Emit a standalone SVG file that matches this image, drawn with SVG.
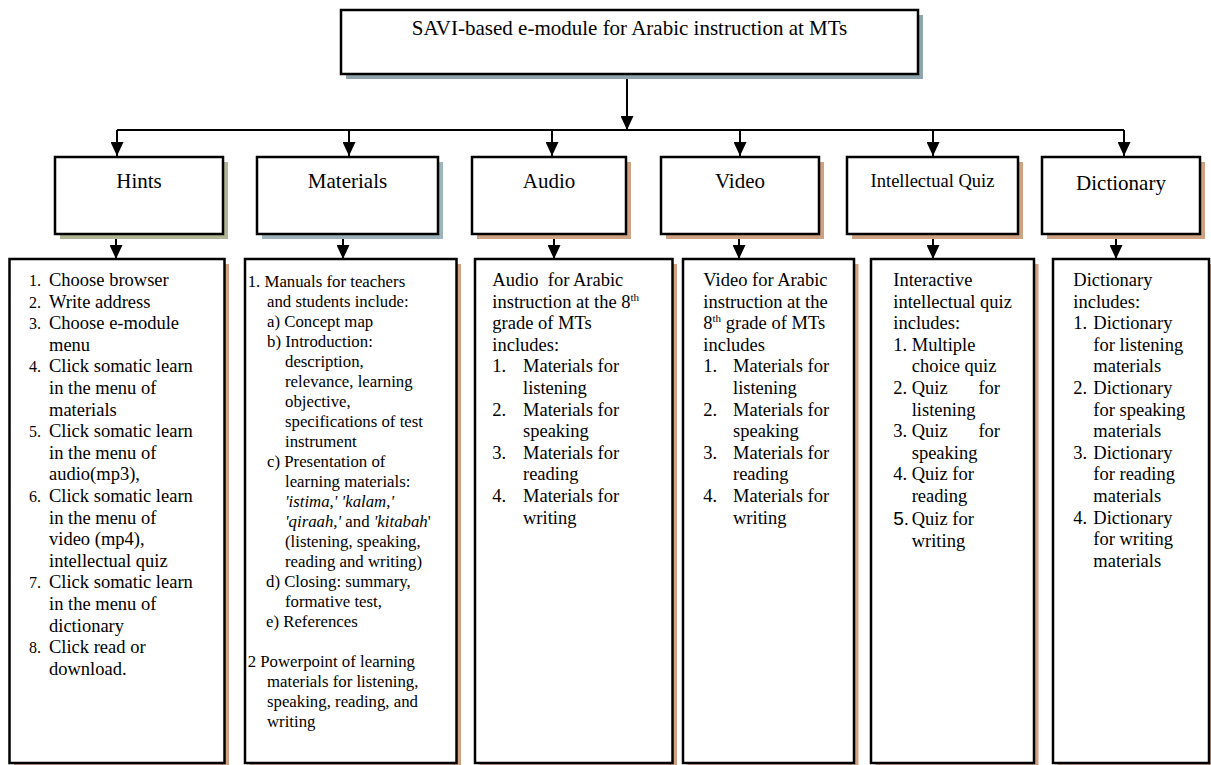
<svg xmlns="http://www.w3.org/2000/svg" width="1211" height="765" viewBox="0 0 1211 765">
<style>
.t{font-family:"Liberation Serif","Times New Roman",serif;font-size:18.5px;fill:#000}
.h{font-size:21px}
.iq{font-size:18.5px}
.m{font-size:16.8px}
.n{font-size:16px}
.box{fill:#fff;stroke:#000;stroke-width:2.5}
.sb{fill:#8fa5ae}
.so{fill:#b0b594}
.sg{fill:#9db4bd}
.st{fill:#cfa283}
.c{stroke:#000;stroke-width:2;fill:none}
.pre{white-space:pre}
</style>
<defs>
<marker id="ah" viewBox="0 0 14 13" refX="14" refY="6.5" markerWidth="14" markerHeight="13" markerUnits="userSpaceOnUse" orient="auto">
<path d="M0,0 L14,6.5 L0,13 z" fill="#000"/>
</marker>
<filter id="blur" x="-5%" y="-5%" width="110%" height="110%"><feGaussianBlur stdDeviation="0.7"/></filter>
</defs>

<g id="connectors">
<line class="c" x1="627" y1="74" x2="627" y2="130" marker-end="url(#ah)"/>
<line class="c" x1="117" y1="130" x2="1124" y2="130"/>
<line class="c" x1="117" y1="130" x2="117" y2="156" marker-end="url(#ah)"/>
<line class="c" x1="349" y1="130" x2="349" y2="156" marker-end="url(#ah)"/>
<line class="c" x1="552" y1="130" x2="552" y2="156" marker-end="url(#ah)"/>
<line class="c" x1="740" y1="130" x2="740" y2="156" marker-end="url(#ah)"/>
<line class="c" x1="933" y1="130" x2="933" y2="156" marker-end="url(#ah)"/>
<line class="c" x1="1124" y1="130" x2="1124" y2="156" marker-end="url(#ah)"/>
<line class="c" x1="116" y1="234" x2="116" y2="259" marker-end="url(#ah)"/>
<line class="c" x1="343" y1="234" x2="343" y2="259" marker-end="url(#ah)"/>
<line class="c" x1="554" y1="234" x2="554" y2="259" marker-end="url(#ah)"/>
<line class="c" x1="739" y1="234" x2="739" y2="259" marker-end="url(#ah)"/>
<line class="c" x1="933" y1="234" x2="933" y2="259" marker-end="url(#ah)"/>
<line class="c" x1="1116" y1="234" x2="1116" y2="259" marker-end="url(#ah)"/>
</g>

<g id="title">
<rect class="sb" x="346" y="15" width="577" height="64" filter="url(#blur)"/>
<rect class="box" x="341" y="10" width="577" height="64"/>
<text class="t h" x="629.5" y="35" text-anchor="middle">SAVI-based e-module for Arabic instruction at MTs</text>
</g>

<g id="hints">
<rect class="so" x="60" y="162" width="168" height="77" filter="url(#blur)"/>
<rect class="box" x="55" y="157" width="168" height="77"/>
<text class="t h" x="139" y="188" text-anchor="middle">Hints</text>
</g>
<g id="materials">
<rect class="sg" x="262" y="162" width="181" height="77" filter="url(#blur)"/>
<rect class="box" x="257" y="157" width="181" height="77"/>
<text class="t h" x="347.5" y="188" text-anchor="middle">Materials</text>
</g>
<g id="audio">
<rect class="st" x="477" y="162" width="154" height="77" filter="url(#blur)"/>
<rect class="box" x="472" y="157" width="154" height="77"/>
<text class="t h" x="549" y="188" text-anchor="middle">Audio</text>
</g>
<g id="video">
<rect class="st" x="666" y="162" width="158" height="77" filter="url(#blur)"/>
<rect class="box" x="661" y="157" width="158" height="77"/>
<text class="t h" x="740" y="188" text-anchor="middle">Video</text>
</g>
<g id="quiz">
<rect class="st" x="852" y="162" width="171" height="77" filter="url(#blur)"/>
<rect class="box" x="847" y="157" width="171" height="77"/>
<text class="t iq" x="932.5" y="186.5" text-anchor="middle">Intellectual Quiz</text>
</g>
<g id="dictionary">
<rect class="st" x="1047" y="162" width="158" height="77" filter="url(#blur)"/>
<rect class="box" x="1042" y="157" width="158" height="77"/>
<text class="t h" x="1121" y="190" text-anchor="middle">Dictionary</text>
</g>

<g id="hints-content">
<rect class="st" x="14" y="264" width="215" height="504" filter="url(#blur)"/>
<rect class="box" x="9.5" y="259" width="215" height="504"/>
<text class="t n" x="29" y="286">1.</text><text class="t" x="49" y="286">Choose browser</text>
<text class="t n" x="29" y="307.6">2.</text><text class="t" x="49" y="307.6">Write address</text>
<text class="t n" x="29" y="329.2">3.</text><text class="t" x="49" y="329.2">Choose e-module</text>
<text class="t" x="49" y="350.8">menu</text>
<text class="t n" x="29" y="372.4">4.</text><text class="t" x="49" y="372.4">Click somatic learn</text>
<text class="t" x="49" y="394">in the menu of</text>
<text class="t" x="49" y="415.6">materials</text>
<text class="t n" x="29" y="437.2">5.</text><text class="t" x="49" y="437.2">Click somatic learn</text>
<text class="t" x="49" y="458.8">in the menu of</text>
<text class="t" x="49" y="480.4">audio(mp3),</text>
<text class="t n" x="29" y="502">6.</text><text class="t" x="49" y="502">Click somatic learn</text>
<text class="t" x="49" y="523.6">in the menu of</text>
<text class="t" x="49" y="545.2">video (mp4),</text>
<text class="t" x="49" y="566.8">intellectual quiz</text>
<text class="t n" x="29" y="588.4">7.</text><text class="t" x="49" y="588.4">Click somatic learn</text>
<text class="t" x="49" y="610">in the menu of</text>
<text class="t" x="49" y="631.6">dictionary</text>
<text class="t n" x="29" y="653.2">8.</text><text class="t" x="49" y="653.2">Click read or</text>
<text class="t" x="49" y="675">download.</text>
</g>

<g id="materials-content">
<rect class="st" x="249.5" y="264" width="211.5" height="504" filter="url(#blur)"/>
<rect class="box" x="245" y="259" width="211.5" height="504"/>
<text class="t m" x="247.7" y="287">1. Manuals for teachers</text>
<text class="t m" x="267" y="307">and students include:</text>
<text class="t m" x="267" y="327">a) Concept map</text>
<text class="t m" x="267" y="347">b) Introduction:</text>
<text class="t m" x="285" y="367">description,</text>
<text class="t m" x="285" y="387">relevance, learning</text>
<text class="t m" x="285" y="407">objective,</text>
<text class="t m" x="285" y="427">specifications of test</text>
<text class="t m" x="285" y="447">instrument</text>
<text class="t m" x="267" y="467">c) Presentation of</text>
<text class="t m" x="285" y="487">learning materials:</text>
<text class="t m" x="285" y="507" font-style="italic">'istima,' 'kalam,'</text>
<text class="t m" x="285" y="527"><tspan font-style="italic">'qiraah,'</tspan> and <tspan font-style="italic">'kitabah</tspan>'</text>
<text class="t m" x="285" y="547">(listening, speaking,</text>
<text class="t m" x="285" y="567">reading and writing)</text>
<text class="t m" x="266" y="587">d) Closing: summary,</text>
<text class="t m" x="285" y="607">formative test,</text>
<text class="t m" x="266" y="627">e) References</text>
<text class="t m" x="247.7" y="667">2 Powerpoint of learning</text>
<text class="t m" x="267" y="687">materials for listening,</text>
<text class="t m" x="267" y="707">speaking, reading, and</text>
<text class="t m" x="267" y="727">writing</text>
</g>

<g id="audio-content">
<rect class="st" x="479.5" y="264" width="197.5" height="504" filter="url(#blur)"/>
<rect class="box" x="475" y="259" width="197.5" height="504"/>
<text class="t pre" x="492.3" y="286">Audio  for Arabic</text>
<text class="t" x="492.3" y="307.6">instruction at the 8<tspan font-size="11" dy="-7">th</tspan></text>
<text class="t" x="492.3" y="329.2">grade of MTs</text>
<text class="t" x="492.3" y="350.8">includes:</text>
<text class="t" x="492.3" y="372.4">1.</text><text class="t" x="523" y="372.4">Materials for</text>
<text class="t" x="523" y="394">listening</text>
<text class="t" x="492.3" y="415.6">2.</text><text class="t" x="523" y="415.6">Materials for</text>
<text class="t" x="523" y="437.2">speaking</text>
<text class="t" x="492.3" y="458.8">3.</text><text class="t" x="523" y="458.8">Materials for</text>
<text class="t" x="523" y="480.4">reading</text>
<text class="t" x="492.3" y="502">4.</text><text class="t" x="523" y="502">Materials for</text>
<text class="t" x="523" y="523.6">writing</text>
</g>

<g id="video-content">
<rect class="st" x="687.5" y="264" width="171" height="504" filter="url(#blur)"/>
<rect class="box" x="683" y="259" width="171" height="504"/>
<text class="t" x="703.3" y="286">Video for Arabic</text>
<text class="t" x="703.3" y="307.6">instruction at the</text>
<text class="t" x="703.3" y="329.2">8<tspan font-size="11" dy="-7">th</tspan><tspan dy="7"> grade of MTs</tspan></text>
<text class="t" x="703.3" y="350.8">includes</text>
<text class="t" x="703.3" y="372.4">1.</text><text class="t" x="733" y="372.4">Materials for</text>
<text class="t" x="733" y="394">listening</text>
<text class="t" x="703.3" y="415.6">2.</text><text class="t" x="733" y="415.6">Materials for</text>
<text class="t" x="733" y="437.2">speaking</text>
<text class="t" x="703.3" y="458.8">3.</text><text class="t" x="733" y="458.8">Materials for</text>
<text class="t" x="733" y="480.4">reading</text>
<text class="t" x="703.3" y="502">4.</text><text class="t" x="733" y="502">Materials for</text>
<text class="t" x="733" y="523.6">writing</text>
</g>

<g id="quiz-content">
<rect class="st" x="875.5" y="264" width="163" height="504" filter="url(#blur)"/>
<rect class="box" x="871" y="259" width="163" height="504"/>
<text class="t" x="893.3" y="286">Interactive</text>
<text class="t" x="893.3" y="307.6">intellectual quiz</text>
<text class="t" x="893.3" y="329.2">includes:</text>
<text class="t" x="893.3" y="350.8">1.</text><text class="t" x="911.7" y="350.8">Multiple</text>
<text class="t" x="911.7" y="372.4">choice quiz</text>
<text class="t" x="893.3" y="394">2.</text><text class="t" x="911.7" y="394">Quiz</text><text class="t" x="1000" y="394" text-anchor="end">for</text>
<text class="t" x="911.7" y="415.6">listening</text>
<text class="t" x="893.3" y="437.2">3.</text><text class="t" x="911.7" y="437.2">Quiz</text><text class="t" x="1000" y="437.2" text-anchor="end">for</text>
<text class="t" x="911.7" y="458.8">speaking</text>
<text class="t" x="893.3" y="480.4">4.</text><text class="t" x="911.7" y="480.4">Quiz for</text>
<text class="t" x="911.7" y="502">reading</text>
<text x="893.3" y="525" style="font-family:'Liberation Sans',Arial,sans-serif;font-size:19px">5.</text><text class="t" x="911.7" y="525">Quiz for</text>
<text class="t" x="911.7" y="547">writing</text>
</g>

<g id="dictionary-content">
<rect class="st" x="1057.5" y="264" width="156" height="504" filter="url(#blur)"/>
<rect class="box" x="1053" y="259" width="156" height="504"/>
<text class="t" x="1073.3" y="286">Dictionary</text>
<text class="t" x="1073.3" y="307.6">includes:</text>
<text class="t" x="1073.3" y="329.2">1.</text><text class="t" x="1093.3" y="329.2">Dictionary</text>
<text class="t" x="1093.3" y="350.8">for listening</text>
<text class="t" x="1093.3" y="372.4">materials</text>
<text class="t" x="1073.3" y="394">2.</text><text class="t" x="1093.3" y="394">Dictionary</text>
<text class="t" x="1093.3" y="415.6">for speaking</text>
<text class="t" x="1093.3" y="437.2">materials</text>
<text class="t" x="1073.3" y="458.8">3.</text><text class="t" x="1093.3" y="458.8">Dictionary</text>
<text class="t" x="1093.3" y="480.4">for reading</text>
<text class="t" x="1093.3" y="502">materials</text>
<text class="t" x="1073.3" y="523.6">4.</text><text class="t" x="1093.3" y="523.6">Dictionary</text>
<text class="t" x="1093.3" y="545.2">for writing</text>
<text class="t" x="1093.3" y="566.8">materials</text>
</g>
</svg>
